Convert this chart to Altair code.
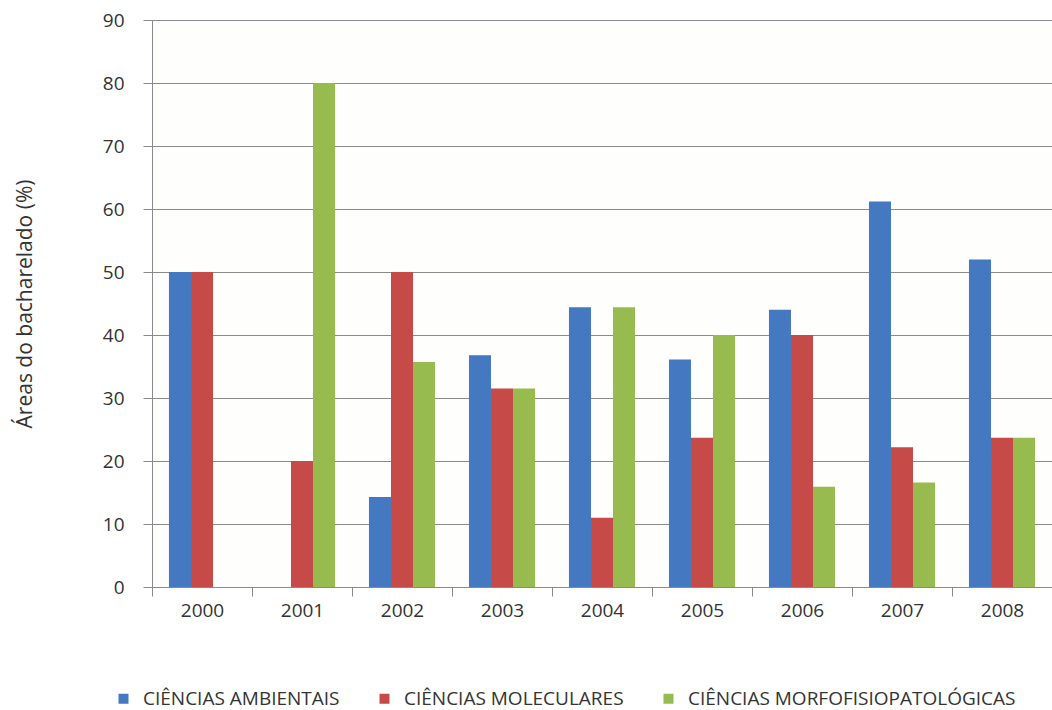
import altair as alt
import pandas as pd

# Share of bachelor's areas per year (%)
years = ["2000", "2001", "2002", "2003", "2004", "2005", "2006", "2007", "2008"]
series = ["CIÊNCIAS AMBIENTAIS", "CIÊNCIAS MOLECULARES", "CIÊNCIAS MORFOFISIOPATOLÓGICAS"]
ambientais = [50, 0, 14.3, 36.8, 44.4, 36.1, 44.0, 61.2, 52.0]
moleculares = [50, 20, 50, 31.5, 11.0, 23.7, 40, 22.2, 23.7]
morfofisio = [0, 80, 35.7, 31.5, 44.4, 40, 15.9, 16.6, 23.7]
colors = ["#4479c2", "#c54a48", "#97bb4e"]

rows = []
for name, vals in zip(series, [ambientais, moleculares, morfofisio]):
    for y, v in zip(years, vals):
        rows.append({"ano": y, "area": name, "valor": v})
df = pd.DataFrame(rows)

FONT = "Open Sans"
GRAY = "#8a8a8a"
TEXT = "#333333"

chart = alt.Chart(df).mark_bar().encode(
    x=alt.X(
        "ano:N",
        sort=years,
        scale=alt.Scale(paddingInner=0, paddingOuter=0),
        axis=alt.Axis(
            title=None,
            labelAngle=0,
            tickBand="extent",
            tickSize=9,
            tickColor=GRAY,
            domainColor=GRAY,
            labelPadding=5,
            labelFontSize=19,
            labelFont=FONT,
            labelColor=TEXT,
            grid=False,
        ),
    ),
    xOffset=alt.XOffset(
        "area:N",
        sort=series,
        scale=alt.Scale(paddingInner=0, paddingOuter=0.77),
    ),
    y=alt.Y(
        "valor:Q",
        scale=alt.Scale(domain=[0, 90], nice=False),
        axis=alt.Axis(
            title="Áreas do bacharelado (%)",
            values=list(range(0, 91, 10)),
            tickSize=9,
            tickColor=GRAY,
            domainColor=GRAY,
            gridColor=GRAY,
            gridWidth=1.2,
            labelPadding=19,
            labelFontSize=19,
            labelFont=FONT,
            labelColor=TEXT,
            titleFont=FONT,
            titleFontSize=21,
            titleFontWeight="normal",
            titleColor=TEXT,
            titleAngle=270,
            titleBaseline="middle",
            titleX=-127,
        ),
    ),
    color=alt.Color(
        "area:N",
        sort=series,
        scale=alt.Scale(domain=series, range=colors),
        legend=alt.Legend(
            title=None,
            orient="none",
            direction="horizontal",
            legendX=-38,
            legendY=669,
            symbolType="square",
            symbolSize=100,
            symbolStrokeWidth=0,
            labelFont=FONT,
            labelFontSize=19,
            labelLimit=0,
            labelColor=TEXT,
            labelOffset=10,
            columnPadding=35,
            padding=0,
        ),
    ),
).properties(
    width=900,
    height=567,
    autosize=alt.AutoSizeParams(type="none"),
    padding={"left": 152, "top": 20, "right": 0, "bottom": 123},
    background="white",
).configure_view(
    stroke=None,
    fill="#fefefc",
)

chart.save("out.html", embed_options={"renderer": "svg", "actions": False})
